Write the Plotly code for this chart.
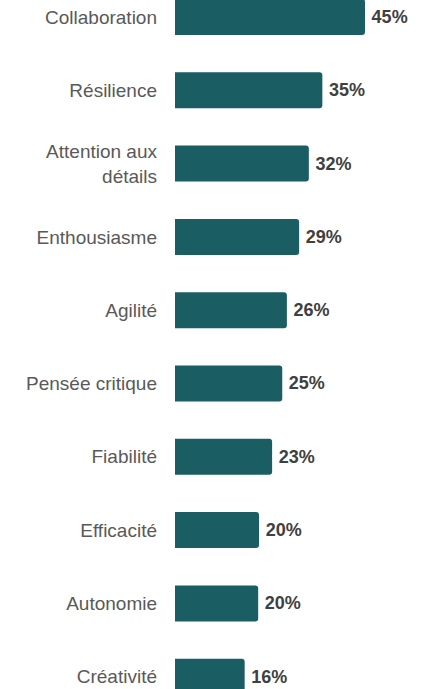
import plotly.graph_objects as go

categories = ["Collaboration", "Résilience", "Attention aux<br>détails", "Enthousiasme",
              "Agilité", "Pensée critique", "Fiabilité", "Efficacité", "Autonomie", "Créativité"]
values = [45.0, 34.9, 31.7, 29.4, 26.5, 25.4, 23.0, 19.9, 19.7, 16.5]
labels = ["45%", "35%", "32%", "29%", "26%", "25%", "23%", "20%", "20%", "16%"]

fig = go.Figure(go.Bar(
    y=categories, x=values, orientation="h",
    marker=dict(color="#1a5e64", line=dict(width=0)),
    width=0.491,
    text=["\u2009" + t for t in labels], textposition="outside", constraintext="none", cliponaxis=False,
    textfont=dict(family="Liberation Sans, Arial, sans-serif", size=18, color="#404040", weight="bold"),
    hoverinfo="skip",
))

fig.update_layout(
    width=441, height=689,
    margin=dict(l=175, r=0, t=0, b=0),
    paper_bgcolor="white", plot_bgcolor="white",
    barcornerradius=3,
    showlegend=False,
    font=dict(family="Liberation Sans, Arial, sans-serif"),
)
fig.update_xaxes(range=[0, 63.0], visible=False, showgrid=False, zeroline=False, fixedrange=True)
fig.update_yaxes(
    type="category", range=[9.168, -0.232], automargin=False,
    showgrid=False, zeroline=False, showline=False, ticks="",
    ticklabelstandoff=17, fixedrange=True,
    tickfont=dict(family="Liberation Sans, Arial, sans-serif", size=19, color="#595959"),
)

fig.write_html("out.html", config={"displayModeBar": False, "staticPlot": True},
               post_script="document.body.style.margin='0';document.body.style.overflow='hidden';")
